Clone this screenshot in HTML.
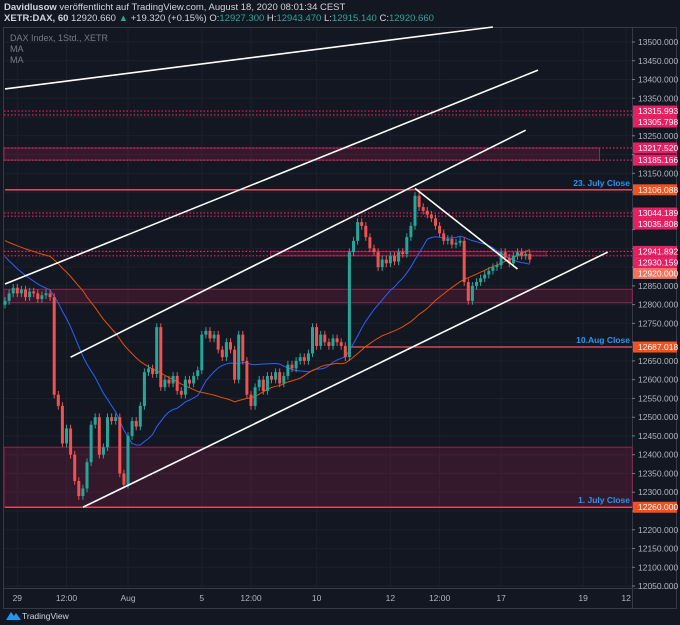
<!DOCTYPE html>
<html><head><meta charset="utf-8"><style>
body{margin:0;background:#131722;width:680px;height:625px;overflow:hidden;font-family:"Liberation Sans",sans-serif}
svg{display:block}
</style></head><body>
<svg id="c" width="680" height="625">
<rect x="0" y="0" width="680" height="625" fill="#131722"/>
<text x="4" y="10" font-size="9.5" fill="#d1d4dc"><tspan font-weight="bold">Davidlusow</tspan> veröffentlicht auf TradingView.com, August 18, 2020 08:01:34 CEST</text>
<text x="4" y="21" font-size="9.5" fill="#d1d4dc"><tspan font-weight="bold">XETR:DAX, 60</tspan> 12920.660 <tspan fill="#26a69a">▲</tspan> +19.320 (+0.15%) O:<tspan fill="#26a69a">12927.300</tspan> H:<tspan fill="#26a69a">12943.470</tspan> L:<tspan fill="#26a69a">12915.140</tspan> C:<tspan fill="#26a69a">12920.660</tspan></text>
<rect x="3.5" y="27.5" width="673" height="581" fill="none" stroke="#363a45"/>
<line x1="632.5" y1="28" x2="632.5" y2="608" stroke="#363a45"/>
<line x1="3" y1="588.5" x2="677" y2="588.5" stroke="#363a45"/>
<g id="grid"></g><g id="zones"></g><g id="mas"></g><g id="candles"></g><g id="lines"></g><g id="axis"></g>
<text x="10" y="41" font-size="9" fill="#787b86">DAX Index, 1Std., XETR</text>
<text x="10" y="52" font-size="9" fill="#787b86">MA</text>
<text x="10" y="63" font-size="9" fill="#787b86">MA</text>
<g><path d="M6 620 L11 612 L14 616 L16 613 L21 620 Z" fill="#2196f3"/><text x="22" y="619" font-size="8.5" fill="#d1d4dc">TradingView</text></g>
</svg>
<script>
const closes=[12810,12830,12845,12830,12840,12820,12835,12830,12815,12825,12830,12820,12560,12530,12430,12470,12400,12330,12290,12310,12380,12480,12500,12400,12420,12500,12490,12500,12350,12320,12450,12490,12475,12530,12620,12630,12615,12740,12580,12600,12590,12610,12570,12560,12600,12590,12610,12625,12720,12730,12710,12720,12680,12660,12700,12680,12600,12720,12650,12560,12530,12580,12600,12570,12610,12600,12620,12590,12610,12640,12630,12650,12660,12650,12670,12740,12690,12720,12700,12690,12710,12700,12690,12660,12940,12970,13020,13010,12980,12950,12940,12900,12920,12910,12930,12915,12940,12935,12980,13010,13090,13060,13050,13040,13030,13010,12990,12970,12975,12960,12965,12970,12860,12810,12850,12860,12870,12880,12890,12900,12905,12940,12925,12910,12930,12940,12930,12935,12920];
const firstOpen=12800;
const priorCloses=[13150,13130,13110,13120,13090,13080,13060,13040,13050,13020,13000,12990,12980,12960,12950,12930,12920,12900,12880,12870,12860,12850,12840,12830,12820];
const priceTicks=[13500,13450,13400,13350,13300,13250,13200,13150,13100,13050,13000,12950,12900,12850,12800,12750,12700,12650,12600,12550,12500,12450,12400,12350,12300,12250,12200,12150,12100,12050];
const timeLabels=["29","12:00","Aug","5","12:00","10","12","12:00","17","19","12"];
const timeIdx=[3,15,30,48,60,76,94,106,121,141,151.5];
const dottedLevels=[13315.993,13305.798,13217.520,13185.166,13044.189,13035.808,12941.892,12930.159];
const closeLevels=[13106.088,12687.018,12260.000];
const closeNames=["23. July Close","10.Aug Close","1. July Close"];
const closeStart=[0,84,0];
const zoneTop=[13217.52,12841,12420,12941.892];
const zoneBot=[13185.166,12805,12260,12930.159];
const zoneFrom=[0,0,0,65];
const zoneTo=[145,153,153,132];
const trendA=[[0,13375],[119,13540]],trendB=[[0,12855],[130,13425]],trendC=[[16,12660],[127,13265]],trendD=[[19,12260],[147,12940]],trendE=[[100,13110],[125,12895]];
const ma1Len=20,ma2Len=45;

const NS="http://www.w3.org/2000/svg";
const x=i=>5+4.1*i, y=p=>42+(13500-p)*0.3752;
function mk(t,a,par){const e=document.createElementNS(NS,t);for(const k in a)e.setAttribute(k,a[k]);document.getElementById(par).appendChild(e);return e;}
// collect axis labels
const labels=[];
dottedLevels.forEach(p=>labels.push({p,col:'#e91e63'}));
closeLevels.forEach(p=>labels.push({p,col:'#f4511e'}));
labels.push({p:closes[closes.length-1],col:'#f7725e'});
labels.sort((a,b)=>b.p-a.p);
let last=-100;labels.forEach(l=>{l.y=Math.max(y(l.p),last+11);last=l.y;});
// grid
priceTicks.forEach(p=>{const l=mk('line',{x1:4,x2:632,y1:y(p),y2:y(p),stroke:'#1c202b'},'grid');


mk('line',{x1:632,x2:635,y1:y(p),y2:y(p),stroke:'#787b86'},'axis');
if(labels.some(q=>Math.abs(q.y-y(p))<10))return;
const t=mk('text',{x:638,y:y(p)+3,'font-size':8.5,fill:'#b2b5be'},'axis');t.textContent=p.toFixed(3);

});
timeLabels.forEach((s,k)=>{const xx=x(timeIdx[k]);mk('line',{x1:xx,x2:xx,y1:28,y2:588,stroke:'#1c202b'},'grid');
const t=mk('text',{x:xx,y:601,'font-size':8.5,fill:'#b2b5be','text-anchor':'middle'},'axis');t.textContent=s;

});
// zones
zoneTop.forEach((p,k)=>{const r=mk('rect',{x:x(zoneFrom[k])-1,y:y(p),width:x(zoneTo[k])-x(zoneFrom[k])+1,height:y(zoneBot[k])-y(p),fill:'rgba(233,30,99,0.16)',stroke:'#8a2a4c','stroke-width':1},'zones');

});
dottedLevels.forEach(p=>{const l=mk('line',{x1:4,x2:632,y1:y(p),y2:y(p),stroke:'#e91e63','stroke-dasharray':'1.5,2','stroke-width':1.2},'zones');

});
closeLevels.forEach((p,k)=>{const l=mk('line',{x1:x(closeStart[k]),x2:632,y1:y(p),y2:y(p),stroke:'#f7525f','stroke-width':1.3},'zones');


const t=mk('text',{x:630,y:y(p)-4,'font-size':8.5,fill:'#2196f3','text-anchor':'end','font-weight':'bold'},'zones');t.textContent=closeNames[k];

});
labels.forEach(l=>{const r=mk('rect',{x:633,y:l.y-5.5,width:44,height:11,fill:l.col},'axis');


const t=mk('text',{x:638,y:l.y+3,'font-size':8.5,fill:'#fff'},'axis');t.textContent=l.p.toFixed(3);});
// MAs
const all=priorCloses.concat(closes),off=priorCloses.length;
function sma(n){return closes.map((c,i)=>{const j=i+off;const s=all.slice(Math.max(0,j-n+1),j+1);return s.reduce((a,b)=>a+b,0)/s.length;});}
[[ma1Len,'#2962ff'],[ma2Len,'#e65100']].forEach(([n,col])=>{const v=sma(n);const p=mk('path',{d:v.map((m,i)=>(i?'L':'M')+x(i)+' '+y(m)).join(''),fill:'none',stroke:col,'stroke-width':1},'mas');

});
// candles
closes.forEach((c,i)=>{const o=i?closes[i-1]:firstOpen;const up=c>=o;const col=up?'#26a69a':'#ef5350';
const hi=Math.max(o,c)+10,lo=Math.min(o,c)-10;
mk('line',{x1:x(i),x2:x(i),y1:y(hi),y2:y(lo),stroke:col},'candles');
const r=mk('rect',{x:x(i)-1.5,y:y(Math.max(o,c)),width:3,height:Math.max(1,Math.abs(y(o)-y(c))),fill:col},'candles');

});
// trend lines
[trendA,trendB,trendC,trendD,trendE].forEach(t=>{const l=mk('line',{x1:x(t[0][0]),y1:y(t[0][1]),x2:x(t[1][0]),y2:y(t[1][1]),stroke:'#ffffff','stroke-width':1.6},'lines');

});
</script>
</body></html>
